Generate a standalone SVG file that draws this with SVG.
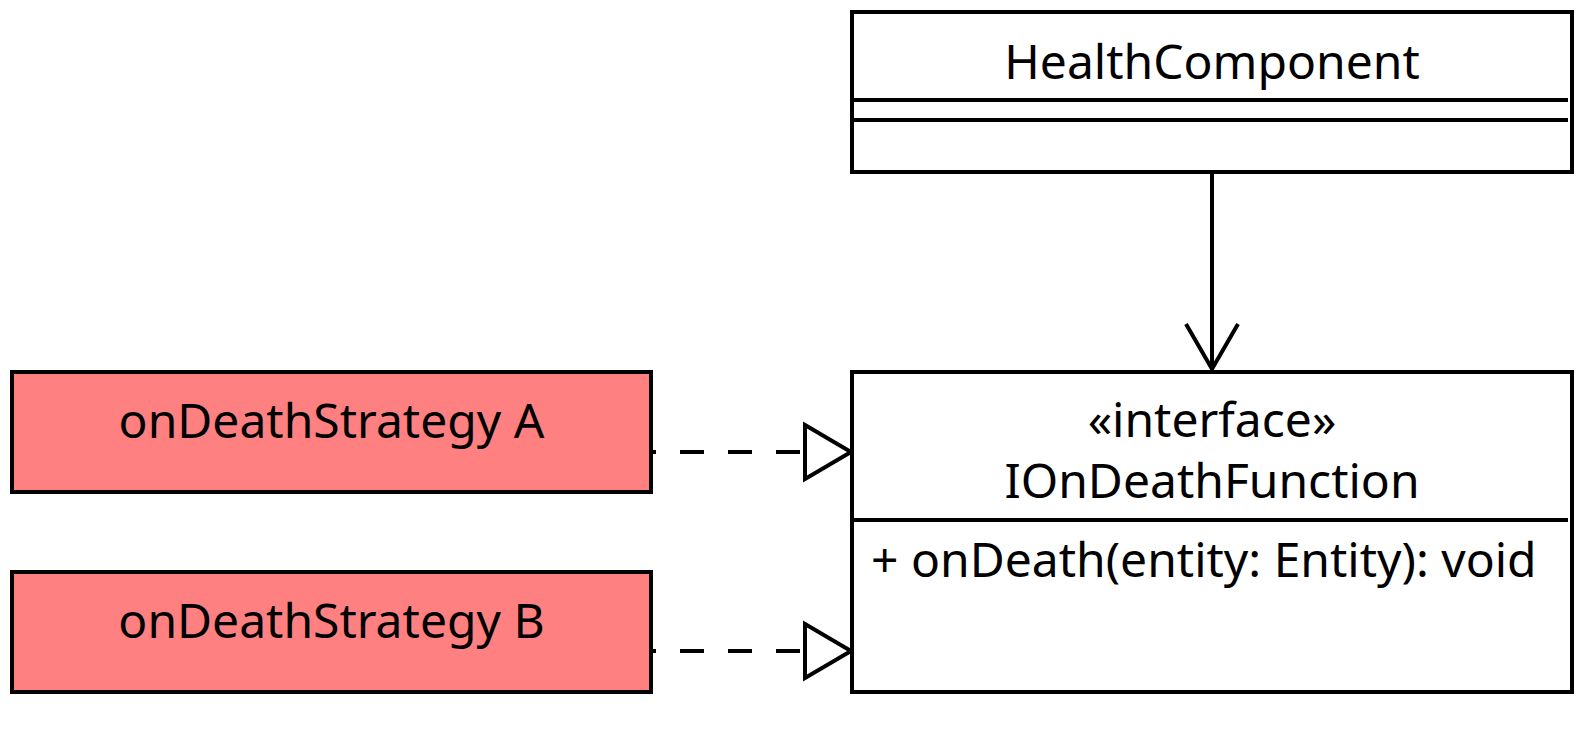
<svg xmlns="http://www.w3.org/2000/svg" width="1580" height="740" viewBox="0 0 1580 740">
<style>
.box{fill:#ffffff;stroke:#000000;stroke-width:4}
.strat{fill:#ff8080;stroke:#000000;stroke-width:4}
.t{font-family:"Noto Sans","Open Sans","DejaVu Sans",sans-serif;font-size:48px;fill:#000000}
.c{text-anchor:middle}
.ln{fill:none;stroke:#000000;stroke-width:4}
.dash{fill:none;stroke:#000000;stroke-width:4;stroke-dasharray:24 24}
.tri{fill:#ffffff;stroke:#000000;stroke-width:4}
</style>
<rect width="1580" height="740" fill="#ffffff"/>
<g id="connectors">
<line class="ln" x1="1212" y1="172" x2="1212" y2="368"/>
<polyline class="ln" points="1186,324 1212,369 1238,324"/>
<line class="dash" x1="800" y1="452" x2="651" y2="452"/>
<polygon class="tri" points="805,425 851,452 805,479"/>
<line class="dash" x1="800" y1="651" x2="651" y2="651"/>
<polygon class="tri" points="805,624 851,651 805,678"/>
</g>
<g id="healthComponent">
<rect class="box" x="852" y="12" width="720" height="160"/>
<line class="ln" x1="852" y1="100" x2="1568" y2="100"/>
<line class="ln" x1="852" y1="120" x2="1568" y2="120"/>
<text class="t c" x="1212" y="79">HealthComponent</text>
</g>
<g id="iOnDeathFunction">
<rect class="box" x="852" y="372" width="720" height="320"/>
<line class="ln" x1="852" y1="520" x2="1568" y2="520"/>
<text class="t c" x="1212" y="437">«interface»</text>
<text class="t c" x="1212" y="498">IOnDeathFunction</text>
<text class="t" x="871" y="577">+ onDeath(entity: Entity): void</text>
</g>
<g id="strategyA">
<rect class="strat" x="12" y="372" width="639" height="120"/>
<text class="t c" x="331.5" y="438">onDeathStrategy A</text>
</g>
<g id="strategyB">
<rect class="strat" x="12" y="572" width="639" height="120"/>
<text class="t c" x="331.5" y="638">onDeathStrategy B</text>
</g>
</svg>
